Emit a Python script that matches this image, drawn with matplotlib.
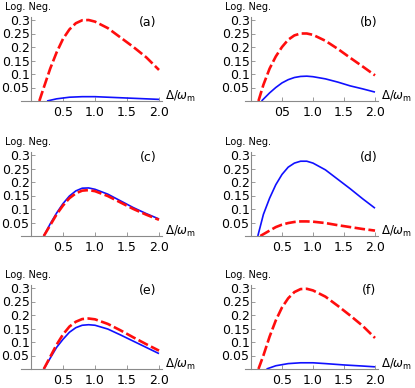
import matplotlib.pyplot as plt

# ---------------------------------------------------------------------------
# data (Delta/omega_m vs logarithmic negativity)
# ---------------------------------------------------------------------------
# (a)
xa_red = [0.13, 0.2, 0.3, 0.4, 0.5, 0.6, 0.7, 0.8, 0.9, 1.0, 1.2, 1.4, 1.6, 1.8, 2.0]
ya_red = [0.0, 0.05, 0.12, 0.18, 0.23, 0.265, 0.288, 0.299, 0.300, 0.294, 0.270, 0.235, 0.200, 0.162, 0.115]
xa_blue = [0.25, 0.4, 0.6, 0.8, 1.0, 1.2, 1.5, 1.8, 2.0]
ya_blue = [0.0, 0.008, 0.014, 0.016, 0.016, 0.014, 0.011, 0.008, 0.006]

# (b)
xb_red = [0.12, 0.2, 0.3, 0.4, 0.5, 0.6, 0.7, 0.8, 0.9, 1.0, 1.2, 1.4, 1.6, 1.8, 2.0]
yb_red = [0.0, 0.06, 0.12, 0.165, 0.20, 0.227, 0.243, 0.250, 0.250, 0.245, 0.223, 0.193, 0.160, 0.128, 0.095]
xb_blue = [0.17, 0.3, 0.4, 0.5, 0.6, 0.7, 0.8, 0.9, 1.0, 1.2, 1.4, 1.6, 1.8, 2.0]
yb_blue = [0.0, 0.03, 0.05, 0.067, 0.079, 0.087, 0.091, 0.092, 0.090, 0.082, 0.070, 0.056, 0.045, 0.033]

# (c)
xc_red = [0.2, 0.3, 0.4, 0.5, 0.6, 0.7, 0.8, 0.9, 1.0, 1.2, 1.4, 1.6, 1.8, 2.0]
yc_red = [0.0, 0.04, 0.08, 0.113, 0.140, 0.158, 0.168, 0.170, 0.166, 0.148, 0.124, 0.100, 0.079, 0.060]
xc_blue = [0.2, 0.3, 0.4, 0.5, 0.6, 0.7, 0.8, 0.9, 1.0, 1.2, 1.4, 1.6, 1.8, 2.0]
yc_blue = [0.0, 0.045, 0.085, 0.120, 0.148, 0.167, 0.177, 0.178, 0.173, 0.155, 0.130, 0.105, 0.083, 0.063]

# (d)
xd_red = [0.15, 0.3, 0.4, 0.5, 0.6, 0.7, 0.8, 0.9, 1.0, 1.2, 1.4, 1.6, 1.8, 2.0]
yd_red = [0.0, 0.020, 0.033, 0.042, 0.048, 0.052, 0.054, 0.054, 0.053, 0.048, 0.040, 0.033, 0.026, 0.020]
xd_blue = [0.11, 0.2, 0.3, 0.4, 0.5, 0.6, 0.7, 0.8, 0.9, 1.0, 1.2, 1.4, 1.6, 1.8, 2.0]
yd_blue = [0.0, 0.08, 0.14, 0.19, 0.228, 0.255, 0.270, 0.277, 0.277, 0.270, 0.245, 0.210, 0.175, 0.138, 0.103]

# (e)
xe_red = [0.2, 0.3, 0.4, 0.5, 0.6, 0.7, 0.8, 0.9, 1.0, 1.2, 1.4, 1.6, 1.8, 2.0]
ye_red = [0.0, 0.045, 0.09, 0.128, 0.157, 0.175, 0.185, 0.187, 0.184, 0.167, 0.143, 0.117, 0.092, 0.068]
xe_blue = [0.2, 0.3, 0.4, 0.5, 0.6, 0.7, 0.8, 0.9, 1.0, 1.2, 1.4, 1.6, 1.8, 2.0]
ye_blue = [0.0, 0.04, 0.08, 0.110, 0.136, 0.153, 0.162, 0.164, 0.162, 0.148, 0.126, 0.103, 0.080, 0.057]

# (f)
xf_red = [0.12, 0.2, 0.3, 0.4, 0.5, 0.6, 0.7, 0.8, 0.9, 1.0, 1.2, 1.4, 1.6, 1.8, 2.0]
yf_red = [0.0, 0.05, 0.12, 0.18, 0.228, 0.262, 0.285, 0.296, 0.297, 0.291, 0.268, 0.234, 0.198, 0.160, 0.115]
xf_blue = [0.25, 0.4, 0.6, 0.8, 1.0, 1.2, 1.5, 1.8, 2.0]
yf_blue = [0.0, 0.012, 0.020, 0.023, 0.023, 0.020, 0.015, 0.011, 0.008]

yticks = [0.05, 0.1, 0.15, 0.2, 0.25, 0.3]
ytick_labels = ['0.05', '0.1', '0.15', '0.2', '0.25', '0.3']
xticks = [0.5, 1.0, 1.5, 2.0]
xtick_labels = ['0.5', '1.0', '1.5', '2.0']
xtick_labels_b = ['05', '1.0', '1.5', '2.0']   # as printed in the original

paineis = [
    ('(a)', xa_red, ya_red, xa_blue, ya_blue, xtick_labels),
    ('(b)', xb_red, yb_red, xb_blue, yb_blue, xtick_labels_b),
    ('(c)', xc_red, yc_red, xc_blue, yc_blue, xtick_labels),
    ('(d)', xd_red, yd_red, xd_blue, yd_blue, xtick_labels),
    ('(e)', xe_red, ye_red, xe_blue, ye_blue, xtick_labels),
    ('(f)', xf_red, yf_red, xf_blue, yf_blue, xtick_labels),
]

# ---------------------------------------------------------------------------
# layout (pixel origin of each panel's data (0,0))
# ---------------------------------------------------------------------------
W, H = 415, 388
origens_x = [31, 251]
origens_y = [101, 236, 369]
escala_x = [64, 62]
escala_y = 270
XL, XR, YB, YT = -0.45, 2.3, -0.06, 0.37

fig = plt.figure(figsize=(W / 100, H / 100), dpi=100)

for i, (nome, xr, yr, xbl, ybl, xlab) in enumerate(paineis):
    linha, coluna = i // 2, i % 2
    x0 = origens_x[coluna]
    y0 = origens_y[linha]
    sx = escala_x[coluna]
    rect = [(x0 + sx * XL) / W,
            (H - (y0 - escala_y * YB)) / H,
            sx * (XR - XL) / W,
            escala_y * (YT - YB) / H]
    ax = fig.add_axes(rect)
    ax.set_facecolor('none')
    ax.set_xlim(XL, XR)
    ax.set_ylim(YB, YT)

    ax.plot(xbl, ybl, color='#1010ff', linewidth=1.2, solid_capstyle='butt')
    ax.plot(xr, yr, color='#ff0d0d', linewidth=1.9, dashes=(4, 1.3))

    for lado in ['top', 'right']:
        ax.spines[lado].set_visible(False)
    ax.spines['left'].set_position(('data', 0))
    ax.spines['bottom'].set_position(('data', 0))
    ax.spines['left'].set_bounds(0, 0.31)
    ax.spines['bottom'].set_bounds(-0.15 if coluna == 0 else -0.1, 2.05)
    for lado in ['left', 'bottom']:
        ax.spines[lado].set_color('#8a8a8a')
        ax.spines[lado].set_linewidth(0.8)

    ax.set_yticks(yticks)
    ax.set_yticklabels(ytick_labels)
    ax.set_xticks(xticks)
    ax.set_xticklabels(xlab)
    ax.tick_params(axis='y', direction='in', length=3, width=0.6, color='#8a8a8a',
                   pad=1, labelsize=9)
    ax.tick_params(axis='x', direction='in', length=3, width=0.6, color='#8a8a8a',
                   pad=3.5, labelsize=9)

    ax.text(2.09, 0.018, r'$\Delta/\omega_{\rm m}$', fontsize=8.5, ha='left', va='center')
    ax.text(-0.05, 0.347, 'Log. Neg.', fontsize=7, ha='center', va='center')
    ax.text(1.83 if coluna == 0 else 1.9, 0.292, nome, fontsize=9, ha='center', va='center')

plt.savefig('out.png', dpi=100)
plt.close()
